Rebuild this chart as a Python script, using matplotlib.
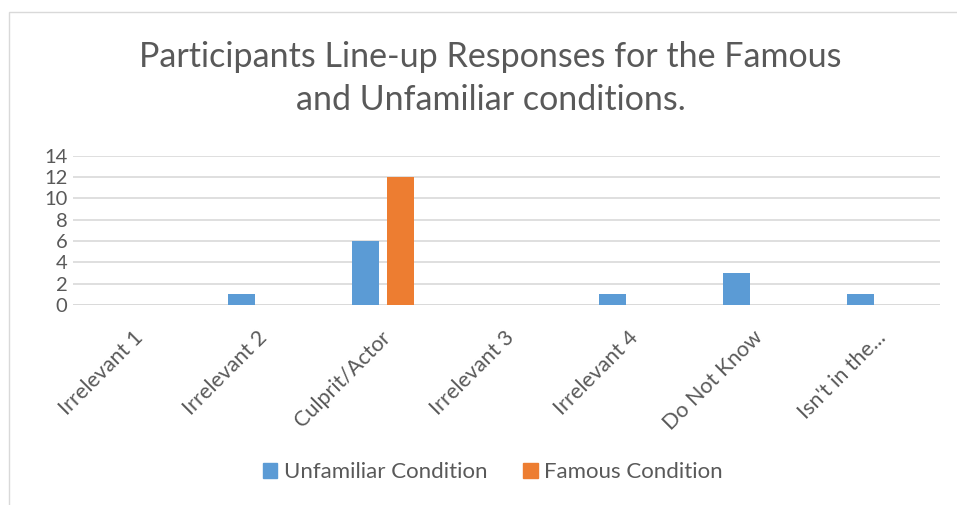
import matplotlib
matplotlib.use("Agg")
import matplotlib.pyplot as plt
from matplotlib.patches import Rectangle, Patch
from matplotlib.transforms import ScaledTranslation
import numpy as np

categories = ["Irrelevant 1", "Irrelevant 2", "Culprit/Actor", "Irrelevant 3",
              "Irrelevant 4", "Do Not Know", "Isn't in the..."]
unfamiliar = [0, 1, 6, 0, 1, 3, 1]
famous = [0, 0, 12, 0, 0, 0, 0]
series_names = ["Unfamiliar Condition", "Famous Condition"]
yticks = [0, 2, 4, 6, 8, 10, 12, 14]

plt.rcParams['font.family'] = ['Lato', 'DejaVu Sans']
gray = '#595959'
blue = '#5B9BD5'
orange = '#ED7D31'

fig = plt.figure(figsize=(9.57, 5.05), dpi=100)
fig.patches.append(Rectangle((8.5/957, -0.1), 1.2, 1 - 11.5/505 + 0.1,
                             transform=fig.transFigure, fill=False,
                             edgecolor='#d9d9d9', linewidth=1))

ax = fig.add_axes([73/957, 1 - 305/505, (940 - 73)/957, (305 - 155.7)/505])
x = np.arange(len(categories))
w = 0.218
off = 0.141
ax.bar(x - off, unfamiliar, width=w, color=blue, label=series_names[0], zorder=3)
ax.bar(x + off, famous, width=w, color=orange, label=series_names[1], zorder=3)

ax.set_xlim(-0.5, len(categories) - 0.5)
ax.set_ylim(0, 14)
ax.set_yticks(yticks)
ax.set_yticklabels([str(v) for v in yticks], fontsize=14.5, color=gray)
ax.yaxis.grid(True, color='#d9d9d9', linewidth=1.2, zorder=0)
ax.tick_params(axis='y', length=0, pad=4)
ax.tick_params(axis='x', length=0, pad=16)
ax.set_xticks(x)
ax.set_xticklabels(categories, rotation=45, ha='right', va='top',
                   rotation_mode='anchor', fontsize=15.5, color=gray)
shift = ScaledTranslation(-2/100, 0, fig.dpi_scale_trans)
for lab in ax.get_xticklabels():
    lab.set_transform(lab.get_transform() + shift)
for s in ax.spines.values():
    s.set_visible(False)
ax.axhline(0, color='#d9d9d9', linewidth=1.2, zorder=2)

fig.text(490/957, 1 - 57/505, "Participants Line-up Responses for the Famous",
         ha='center', va='center', fontsize=24.5, color=gray)
fig.text(491/957, 1 - 100/505, "and Unfamiliar conditions.",
         ha='center', va='center', fontsize=24.5, color=gray)

handles = [Patch(color=blue), Patch(color=orange)]
fig.legend(handles, series_names, loc='center', bbox_to_anchor=(493/957, 1 - 472/505),
           ncol=2, frameon=False, fontsize=16, labelcolor=gray,
           handlelength=0.65, handleheight=0.65, handletextpad=0.3, columnspacing=1.6)

fig.savefig("out.png", dpi=100)
